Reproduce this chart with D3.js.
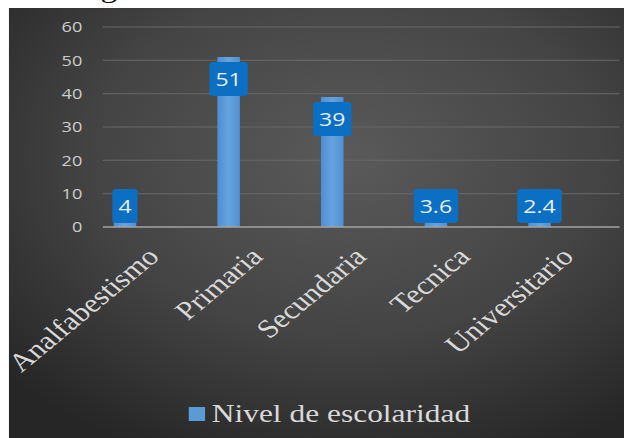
<!DOCTYPE html>
<html>
<head>
<meta charset="utf-8">
<script src="https://cdn.jsdelivr.net/npm/d3@7"></script>
<style>
  html, body { margin: 0; padding: 0; background: #fff; overflow: hidden; }
</style>
</head>
<body>
<script>
const categories = ["Analfabestismo", "Primaria", "Secundaria", "Tecnica", "Universitario"];
const values = [4, 51, 39, 3.6, 2.4];
const y_ticks = [0, 10, 20, 30, 40, 50, 60];
const series_name = "Nivel de escolaridad";

// the picture is stretched sideways, so draw narrow and scale x
const sx = 1.21;
const W = 624, H = 438;
const inner_w = W / sx;

const svg = d3.select("body").append("svg")
    .attr("width", W)
    .attr("height", H);

const defs = svg.append("defs");
const bg = defs.append("radialGradient")
    .attr("id", "bg")
    .attr("cx", "55%").attr("cy", "35%").attr("r", "75%");
bg.append("stop").attr("offset", "0%").attr("stop-color", "#5a5a5a");
bg.append("stop").attr("offset", "55%").attr("stop-color", "#444444");
bg.append("stop").attr("offset", "100%").attr("stop-color", "#262626");

const bar_grad = defs.append("linearGradient")
    .attr("id", "bar")
    .attr("x1", "0").attr("x2", "1").attr("y1", "0").attr("y2", "0");
bar_grad.append("stop").attr("offset", "0%").attr("stop-color", "#4d8fd4");
bar_grad.append("stop").attr("offset", "50%").attr("stop-color", "#66a3df");
bar_grad.append("stop").attr("offset", "100%").attr("stop-color", "#4f90d4");

const g = svg.append("g")
    .attr("transform", "scale(" + sx + ",1)");

// cut-off title above the chart
g.append("text")
    .attr("x", 83)
    .attr("y", -3)
    .style("font-family", "Liberation Serif")
    .style("font-size", "28px")
    .style("fill", "#111")
    .text("g");

g.append("rect")
    .attr("x", 7.4)
    .attr("y", 8)
    .attr("width", inner_w - 7.4)
    .attr("height", H - 8)
    .style("fill", "url(#bg)");

const x = d3.scalePoint()
    .domain(categories)
    .range([103.3, 445.9]);
const y = d3.scaleLinear()
    .domain([0, 60])
    .range([227, 27]);
const bar_w = 18.6;

// gridlines
g.selectAll(".grid")
    .data(y_ticks.filter(d => d > 0))
  .enter().append("line")
    .attr("class", "grid")
    .attr("x1", 85).attr("x2", 512)
    .attr("y1", d => y(d)).attr("y2", d => y(d))
    .style("stroke", "#696969")
    .style("stroke-width", 1);

// y axis labels
const y_axis = d3.axisLeft(y).tickValues(y_ticks).tickSize(0).tickPadding(0);
const ya = g.append("g")
    .attr("transform", "translate(68,0)")
    .call(y_axis);
ya.select(".domain").remove();
ya.selectAll("text")
    .style("font-family", "Open Sans")
    .style("font-size", "15px")
    .style("fill", "#cccccc");

// bars
g.selectAll(".bar")
    .data(values)
  .enter().append("rect")
    .attr("class", "bar")
    .attr("x", (d, i) => x(categories[i]) - bar_w / 2)
    .attr("y", d => y(d))
    .attr("width", bar_w)
    .attr("height", d => y(0) - y(d))
    .style("fill", "url(#bar)");

// baseline
g.append("line")
    .attr("x1", 85).attr("x2", 512)
    .attr("y1", y(0)).attr("y2", y(0))
    .style("stroke", "#a3a3a3")
    .style("stroke-width", 1.5);

// value labels in boxes
const box_h = 34;
const labels = g.selectAll(".val")
    .data(values)
  .enter().append("g")
    .attr("class", "val");
labels.append("text")
    .attr("x", (d, i) => x(categories[i]))
    .attr("y", d => Math.min(y(d) + 5, 223 - box_h) + box_h / 2)
    .attr("dy", "0.35em")
    .attr("text-anchor", "middle")
    .style("font-family", "Open Sans")
    .style("font-size", "19px")
    .style("fill", "#e6eef8")
    .text(d => d);
labels.each(function(d, i) {
  const t = d3.select(this).select("text");
  const tw = t.node().getComputedTextLength();
  d3.select(this).insert("rect", "text")
      .attr("x", x(categories[i]) - tw / 2 - 5)
      .attr("y", Math.min(y(d) + 5, 223 - box_h))
      .attr("width", tw + 10)
      .attr("height", box_h)
      .attr("rx", 3)
      .style("fill", "#0b6fc3");
});

// category labels
g.selectAll(".cat")
    .data(categories)
  .enter().append("text")
    .attr("class", "cat")
    .attr("transform", d => "translate(" + (x(d) + 29.5) + ",258) rotate(-45)")
    .attr("text-anchor", "end")
    .style("font-family", "Liberation Serif")
    .style("font-size", "26px")
    .style("fill", "#d9d9d9")
    .text(d => d);

// legend
g.append("rect")
    .attr("x", 156)
    .attr("y", 407)
    .attr("width", 13.5)
    .attr("height", 14)
    .style("fill", "#5b9bd5");
g.append("text")
    .attr("x", 175)
    .attr("y", 422)
    .style("font-family", "Liberation Serif")
    .style("font-size", "26px")
    .style("fill", "#d9d9d9")
    .text(series_name);
</script>
</body>
</html>
